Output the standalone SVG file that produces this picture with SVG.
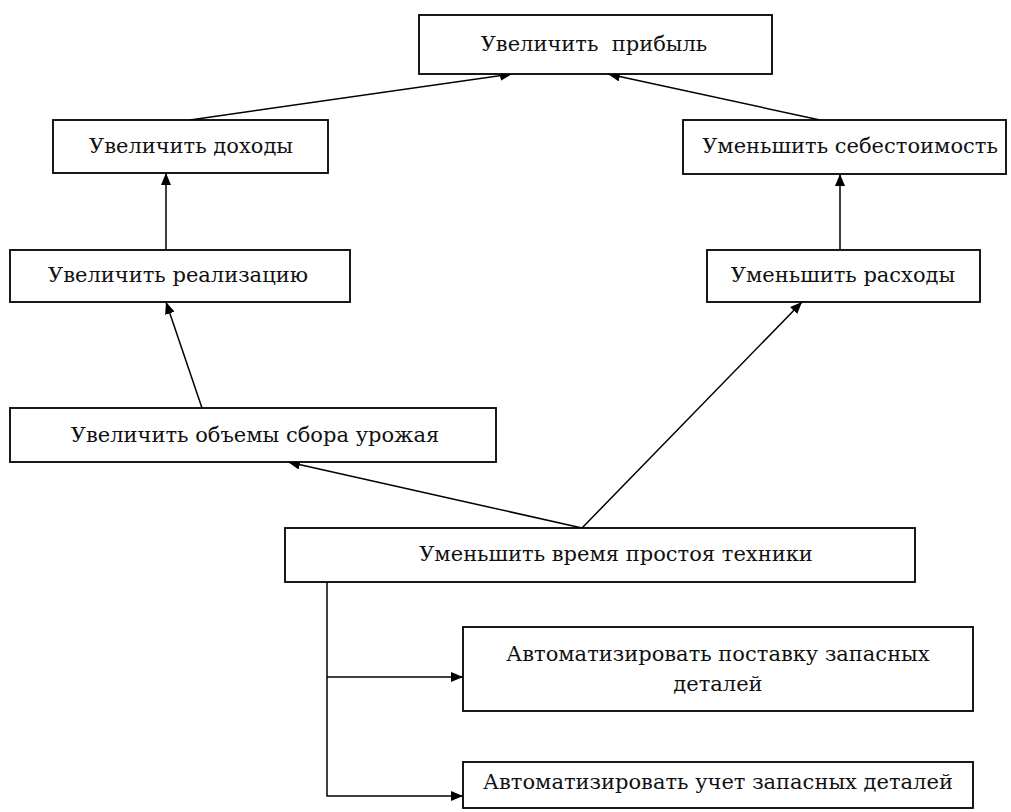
<svg xmlns="http://www.w3.org/2000/svg" width="1011" height="812" viewBox="0 0 1011 812">
  <style>
    .box { fill: #ffffff; stroke: #000000; stroke-width: 1.8; }
    .lbl { font-family: 'DejaVu Serif', 'Liberation Serif', serif; font-size: 21px; fill: #111111; text-anchor: middle; }
    .edge { fill: none; stroke: #000000; stroke-width: 1.5; }
  </style>
  <defs>
    <marker id="arrow" viewBox="0 0 12 10" refX="12" refY="5" markerWidth="12" markerHeight="10" markerUnits="userSpaceOnUse" orient="auto">
      <path d="M0,0 L12,5 L0,10 Z" fill="#000000"/>
    </marker>
  </defs>

  <rect width="1011" height="812" fill="#ffffff"/>

  <!-- connectors -->
  <g id="connectors">
    <line class="edge" x1="190" y1="120" x2="512" y2="74" marker-end="url(#arrow)"/>
    <line class="edge" x1="820" y1="120" x2="608" y2="74" marker-end="url(#arrow)"/>
    <line class="edge" x1="166" y1="250" x2="166" y2="173" marker-end="url(#arrow)"/>
    <line class="edge" x1="840" y1="250" x2="840" y2="174" marker-end="url(#arrow)"/>
    <line class="edge" x1="202" y1="408" x2="166" y2="302" marker-end="url(#arrow)"/>
    <line class="edge" x1="582" y1="528" x2="288" y2="462" marker-end="url(#arrow)"/>
    <line class="edge" x1="582" y1="528" x2="802" y2="302" marker-end="url(#arrow)"/>
    <polyline class="edge" points="327,582 327,796 463,796" marker-end="url(#arrow)"/>
    <line class="edge" x1="327" y1="677" x2="463" y2="677" marker-end="url(#arrow)"/>
  </g>

  <g id="n-profit">
    <rect class="box" x="419" y="15" width="353" height="59"/>
    <text class="lbl" x="594" y="51">Увеличить&#160; прибыль</text>
  </g>
  <g id="n-income">
    <rect class="box" x="53" y="120" width="275" height="53"/>
    <text class="lbl" x="191" y="153">Увеличить доходы</text>
  </g>
  <g id="n-cost">
    <rect class="box" x="683" y="120" width="323" height="54"/>
    <text class="lbl" x="850" y="153">Уменьшить себестоимость</text>
  </g>
  <g id="n-sales">
    <rect class="box" x="10" y="250" width="340" height="52"/>
    <text class="lbl" x="178" y="282">Увеличить реализацию</text>
  </g>
  <g id="n-expenses">
    <rect class="box" x="707" y="250" width="273" height="52"/>
    <text class="lbl" x="843" y="282">Уменьшить расходы</text>
  </g>
  <g id="n-harvest">
    <rect class="box" x="10" y="408" width="486" height="54"/>
    <text class="lbl" x="255" y="442">Увеличить объемы сбора урожая</text>
  </g>
  <g id="n-downtime">
    <rect class="box" x="285" y="528" width="630" height="54"/>
    <text class="lbl" x="616" y="561">Уменьшить время простоя техники</text>
  </g>
  <g id="n-supply">
    <rect class="box" x="463" y="627" width="510" height="84"/>
    <text class="lbl" x="718" y="661">Автоматизировать поставку запасных</text>
    <text class="lbl" x="718" y="691">деталей</text>
  </g>
  <g id="n-accounting">
    <rect class="box" x="463" y="762" width="510" height="46"/>
    <text class="lbl" x="718" y="789">Автоматизировать учет запасных деталей</text>
  </g>
</svg>
